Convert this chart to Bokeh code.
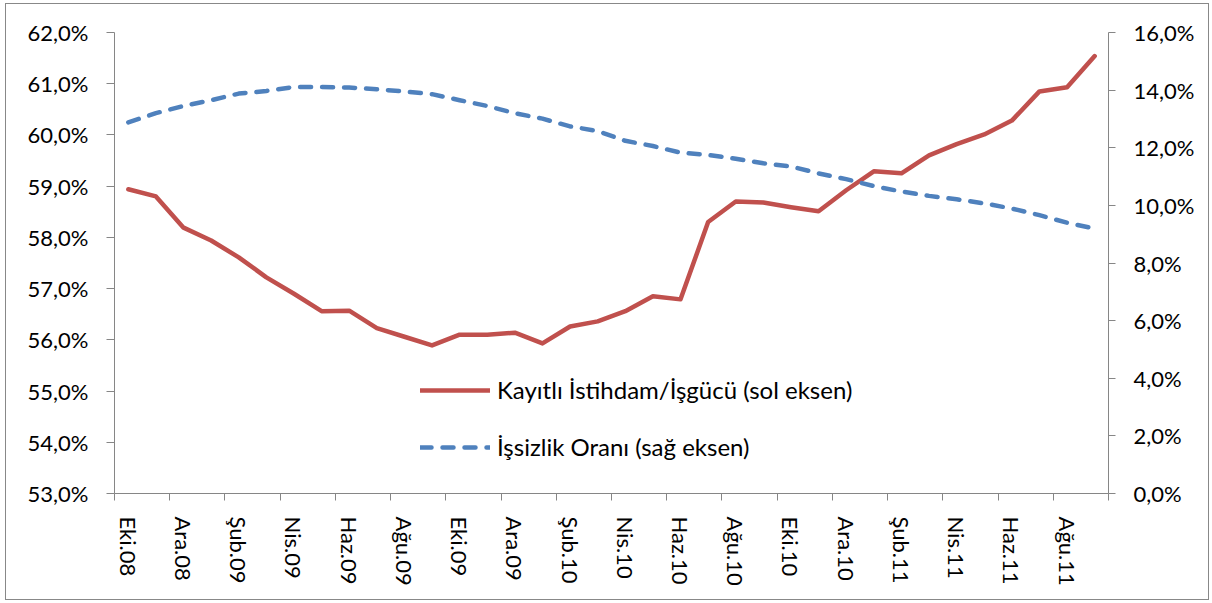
from bokeh.plotting import figure
from bokeh.models import Range1d, LinearAxis, FixedTicker, Legend, LegendItem, ColumnDataSource
from bokeh.embed import file_html
from bokeh.resources import INLINE

months = ["Eki.08", "Kas.08", "Ara.08", "Oca.09", "Şub.09", "Mar.09", "Nis.09", "May.09",
          "Haz.09", "Tem.09", "Ağu.09", "Eyl.09", "Eki.09", "Kas.09", "Ara.09", "Oca.10",
          "Şub.10", "Mar.10", "Nis.10", "May.10", "Haz.10", "Tem.10", "Ağu.10", "Eyl.10",
          "Eki.10", "Kas.10", "Ara.10", "Oca.11", "Şub.11", "Mar.11", "Nis.11", "May.11",
          "Haz.11", "Tem.11", "Ağu.11", "Eyl.11"]

kayitli = [58.94, 58.80, 58.19, 57.94, 57.61, 57.22, 56.90, 56.56, 56.57, 56.23,
           56.06, 55.89, 56.10, 56.10, 56.14, 55.93, 56.26, 56.36, 56.56, 56.85,
           56.79, 58.30, 58.70, 58.68, 58.59, 58.51, 58.92, 59.29, 59.25, 59.60,
           59.82, 60.01, 60.28, 60.85, 60.93, 61.54]

issizlik = [12.88, 13.20, 13.45, 13.65, 13.88, 13.97, 14.11, 14.11, 14.09, 14.03,
            13.95, 13.86, 13.65, 13.45, 13.20, 13.01, 12.74, 12.58, 12.24, 12.06,
            11.83, 11.75, 11.62, 11.46, 11.35, 11.11, 10.91, 10.67, 10.48, 10.33,
            10.21, 10.07, 9.89, 9.66, 9.40, 9.19]

left_ticks = [53, 54, 55, 56, 57, 58, 59, 60, 61, 62]
left_labels = ["53,0%", "54,0%", "55,0%", "56,0%", "57,0%", "58,0%", "59,0%", "60,0%", "61,0%", "62,0%"]
right_ticks = [0, 2, 4, 6, 8, 10, 12, 14, 16]
right_labels = ["0,0%", "2,0%", "4,0%", "6,0%", "8,0%", "10,0%", "12,0%", "14,0%", "16,0%"]

series_names = ["Kayıtlı İstihdam/İşgücü (sol eksen)", "İşsizlik Oranı (sağ eksen)"]

FONT = "Lato"
FS = "22px"
LFS = "24px"
AXIS_COLOR = "#868686"
RED = "#C0504D"
BLUE = "#4F81BD"

n = len(months)
xs = [i + 0.5 for i in range(n)]
src = ColumnDataSource(dict(x=xs, k=kayitli, s=issizlik))

p = figure(width=1204, height=597, output_backend="svg", toolbar_location=None,
           x_range=Range1d(0, n), y_range=Range1d(53, 62))
p.extra_y_ranges = {"r": Range1d(0, 16)}
p.min_border_left = 108
p.min_border_right = 102
p.min_border_top = 28
p.min_border_bottom = 108
p.outline_line_color = None
p.xgrid.visible = False
p.ygrid.visible = False
p.background_fill_color = "white"
p.border_fill_color = "white"
p.styles = {"border": "1px solid #888888", "margin-left": "5px", "margin-top": "3px"}

r1 = p.line("x", "k", source=src, line_color=RED, line_width=4.5, line_join="round", line_cap="round")
r2 = p.line("x", "s", source=src, y_range_name="r", line_color=BLUE, line_width=4.5,
            line_dash="11 11", line_cap="round", line_join="round")

# x axis
xa = p.xaxis[0]
label_idx = list(range(0, n, 2))
xa.ticker = FixedTicker(ticks=[xs[i] for i in label_idx], minor_ticks=list(range(0, n + 1, 2)))
xa.major_label_overrides = {xs[i]: months[i] for i in label_idx}
xa.major_label_orientation = "vertical"
xa.major_tick_line_color = None
xa.minor_tick_line_color = AXIS_COLOR
xa.minor_tick_out = 7
xa.minor_tick_in = 0
xa.axis_line_color = AXIS_COLOR
xa.major_label_text_font = FONT
xa.major_label_text_font_size = FS
xa.major_label_text_color = "black"
xa.major_label_standoff = 16

# left axis
ya = p.yaxis[0]
ya.ticker = FixedTicker(ticks=left_ticks, minor_ticks=[])
ya.major_label_overrides = {t: l for t, l in zip(left_ticks, left_labels)}
ya.axis_line_color = AXIS_COLOR
ya.major_tick_line_color = AXIS_COLOR
ya.major_tick_out = 8
ya.major_tick_in = 0
ya.minor_tick_line_color = None
ya.major_label_text_font = FONT
ya.major_label_text_font_size = FS
ya.major_label_text_color = "black"
ya.major_label_standoff = 18

# right axis
ra = LinearAxis(y_range_name="r")
ra.ticker = FixedTicker(ticks=right_ticks, minor_ticks=[])
ra.major_label_overrides = {t: l for t, l in zip(right_ticks, right_labels)}
ra.axis_line_color = AXIS_COLOR
ra.major_tick_line_color = AXIS_COLOR
ra.major_tick_out = 7
ra.major_tick_in = 0
ra.minor_tick_line_color = None
ra.major_label_text_font = FONT
ra.major_label_text_font_size = FS
ra.major_label_text_color = "black"
ra.major_label_standoff = 18
p.add_layout(ra, "right")

legend = Legend(items=[LegendItem(label=series_names[0], renderers=[r1]),
                       LegendItem(label=series_names[1], renderers=[r2])],
                location=(306, 32), orientation="vertical")
legend.border_line_color = None
legend.background_fill_alpha = 0
legend.padding = 0
legend.margin = 0
legend.spacing = 28
legend.glyph_width = 70
legend.glyph_height = 20
legend.label_height = 20
legend.label_standoff = 7
legend.label_text_font = FONT
legend.label_text_font_size = LFS
legend.label_text_color = "black"
p.add_layout(legend, "center")

open("out.html", "w").write(file_html(p, INLINE))
